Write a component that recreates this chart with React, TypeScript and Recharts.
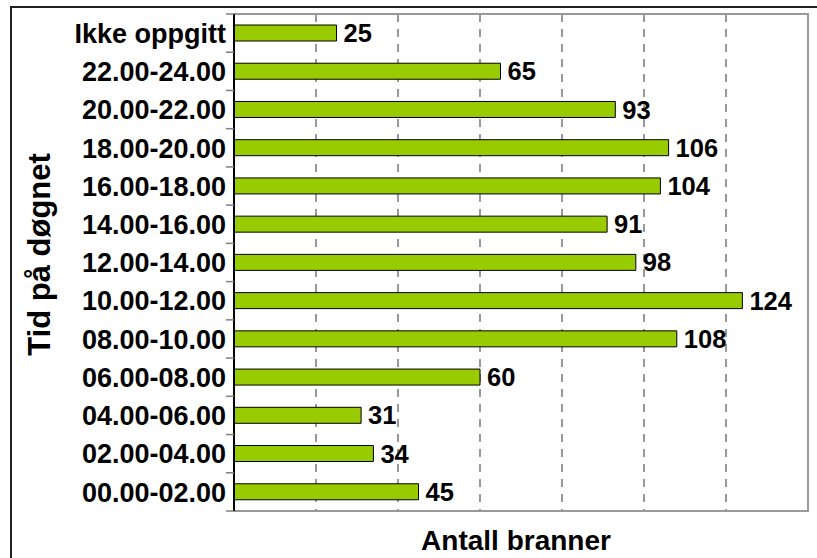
import React from "react";
import {
  BarChart,
  Bar,
  XAxis,
  YAxis,
  CartesianGrid,
  LabelList,
  ReferenceArea,
} from "recharts";

const categories = [
  "Ikke oppgitt",
  "22.00-24.00",
  "20.00-22.00",
  "18.00-20.00",
  "16.00-18.00",
  "14.00-16.00",
  "12.00-14.00",
  "10.00-12.00",
  "08.00-10.00",
  "06.00-08.00",
  "04.00-06.00",
  "02.00-04.00",
  "00.00-02.00",
];
const counts = [25, 65, 93, 106, 104, 91, 98, 124, 108, 60, 31, 34, 45];
const xTicks = [0, 20, 40, 60, 80, 100, 120, 140];
const X_MAX = 140;

const data = categories.map((name, i) => ({ name, value: counts[i] }));

const W = 817;
const H = 558;
const M = { top: 14, right: 9, bottom: 0, left: 0 };
const Y_WIDTH = 234;
const X_HEIGHT = 47;
const FONT = "'Liberation Sans', Arial, sans-serif";
const bandHalf = (H - M.top - M.bottom - X_HEIGHT) / categories.length / 2;

const CatTick = (props: any) => {
  const { y, payload, index } = props;
  const ax = Y_WIDTH;
  return (
    <g>
      <line x1={ax - 8} x2={ax} y1={y - bandHalf} y2={y - bandHalf} stroke="#808080" strokeWidth={1.5} />
      {index === categories.length - 1 && (
        <line x1={ax - 8} x2={ax} y1={y + bandHalf} y2={y + bandHalf} stroke="#808080" strokeWidth={1.5} />
      )}
      <text
        x={ax - 8}
        y={y}
        dy="0.36em"
        textAnchor="end"
        fontFamily={FONT}
        fontWeight="bold"
        fontSize={27}
        fill="#000"
      >
        {payload.value}
      </text>
    </g>
  );
};

const gridX = (args: any) => {
  const { xAxis, offset } = args || {};
  const inner = xTicks.filter((t) => t > 0 && t < X_MAX);
  if (xAxis && typeof xAxis.scale === "function") {
    return inner.map((t) => xAxis.scale(t));
  }
  return inner.map((t) => offset.left + (t / X_MAX) * offset.width);
};

export default function App() {
  return (
    <div style={{ position: "absolute", left: 0, top: 0, width: W, height: H, background: "#fff" }}>
      <div
        style={{
          position: "absolute",
          left: 10,
          top: 6,
          width: W,
          height: H,
          borderLeft: "2px solid #222",
          borderTop: "2px solid #222",
          boxSizing: "border-box",
        }}
      />
      <div style={{ position: "absolute", left: 0, top: 0 }}>
        <BarChart width={W} height={H} data={data} layout="vertical" margin={M} barSize={16}>
          <CartesianGrid
            horizontal={false}
            vertical={true}
            stroke="#555"
            strokeWidth={1.2}
            strokeDasharray="8 7"
            verticalCoordinatesGenerator={gridX}
          />
          <ReferenceArea x1={0} x2={X_MAX} fill="none" stroke="#999" strokeWidth={2} ifOverflow="visible" />
          <XAxis
            type="number"
            domain={[0, X_MAX]}
            ticks={xTicks}
            tick={false}
            tickLine={false}
            axisLine={{ stroke: "#999", strokeWidth: 2 }}
            height={X_HEIGHT}
            label={{
              value: "Antall branner",
              position: "insideBottom",
              offset: 8,
              dx: -5,
              style: { fontFamily: FONT, fontWeight: "bold", fontSize: 28, fill: "#000" },
            }}
          />
          <YAxis
            type="category"
            dataKey="name"
            width={Y_WIDTH}
            interval={0}
            tickLine={false}
            axisLine={{ stroke: "#000", strokeWidth: 2 }}
            tick={<CatTick />}
            label={{
              value: "Tid på døgnet",
              angle: -90,
              position: "insideLeft",
              offset: 39,
              dy: -8,
              style: { fontFamily: FONT, fontWeight: "bold", fontSize: 31, fill: "#000", textAnchor: "middle" },
            }}
          />
          <Bar dataKey="value" fill="#99CC00" stroke="#000" strokeWidth={1} isAnimationActive={false}>
            <LabelList
              dataKey="value"
              position="right"
              offset={7}
              style={{ fontFamily: FONT, fontWeight: "bold", fontSize: 25.5, fill: "#000" }}
            />
          </Bar>
        </BarChart>
      </div>
    </div>
  );
}
